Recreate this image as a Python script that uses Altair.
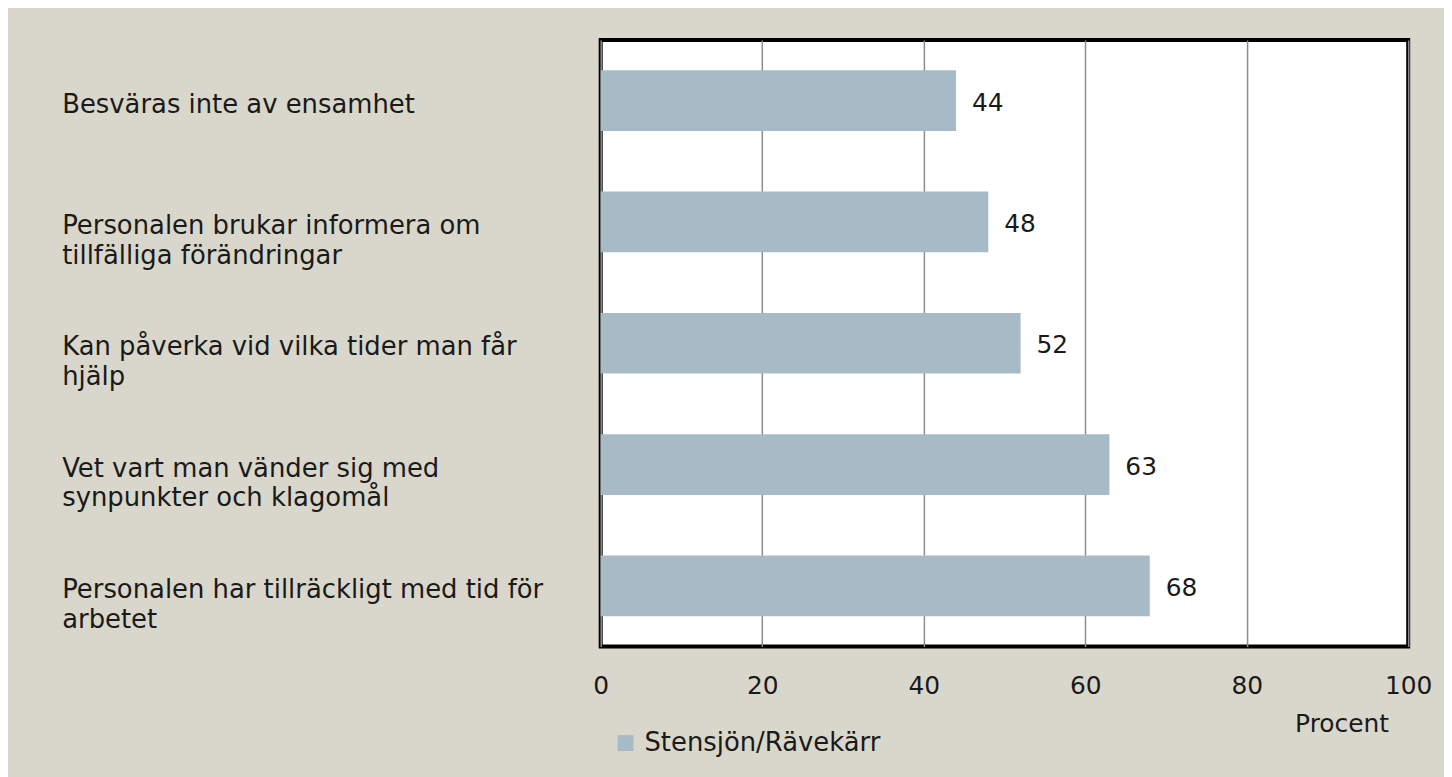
import altair as alt
import pandas as pd

categories = [
    "Besväras inte av ensamhet",
    "Personalen brukar informera om\ntillfälliga förändringar",
    "Kan påverka vid vilka tider man får\nhjälp",
    "Vet vart man vänder sig med\nsynpunkter och klagomål",
    "Personalen har tillräckligt med tid för\narbetet",
]
values = [44, 48, 52, 63, 68]
series = "Stensjön/Rävekärr"
x_ticks = [0, 20, 40, 60, 80, 100]

df = pd.DataFrame({"kategori": categories, "procent": values, "serie": [series] * len(values)})

FONT = "DejaVu Sans"
BAR = "#a7bbc6"

y_enc = alt.Y(
    "kategori:N",
    sort=categories,
    scale=alt.Scale(paddingInner=0.5, paddingOuter=0.25),
    axis=alt.Axis(
        title=None,
        ticks=False,
        domain=False,
        grid=False,
        labelAlign="left",
        labelBaseline="top",
        labelPadding=542,
        labelOffset=-9,
        labelFont=FONT,
        labelFontSize=26,
        labelLineHeight=30,
        labelColor="#1a1a1a",
        labelLimit=600,
        labelExpr="split(datum.label, '\\n')",
    ),
)

x_enc = alt.X(
    "procent:Q",
    scale=alt.Scale(domain=[0, 100], nice=False),
    axis=alt.Axis(
        values=x_ticks,
        title="Procent",
        titleX=745,
        titleY=77,
        titleAlign="center",
        titleBaseline="middle",
        titleFont=FONT,
        titleFontSize=25,
        titleFontWeight="normal",
        titleColor="#1a1a1a",
        ticks=False,
        tickSize=0,
        domain=False,
        grid=True,
        gridColor="#8c8c8c",
        gridWidth=1.5,
        labelPadding=39,
        labelBaseline="middle",
        labelFont=FONT,
        labelFontSize=25,
        labelColor="#1a1a1a",
        labelFlush=False,
    ),
)

bars = alt.Chart(df).mark_bar(color=BAR).encode(
    x=x_enc,
    y=y_enc,
    color=alt.Color(
        "serie:N",
        scale=alt.Scale(range=[BAR]),
        legend=alt.Legend(
            title=None,
            orient="none",
            legendX=12,
            legendY=694,
            symbolType="square",
            symbolSize=256,
            symbolStrokeWidth=0,
            symbolOpacity=1,
            labelFont=FONT,
            labelFontSize=26,
            labelColor="#1a1a1a",
            labelOffset=6,
            padding=0,
            labelLimit=400,
        ),
    ),
)

text = alt.Chart(df).mark_text(
    align="left", baseline="middle", dx=16, dy=2, font=FONT, fontSize=25, color="#1a1a1a"
).encode(
    x=alt.X("procent:Q"),
    y=alt.Y("kategori:N", sort=categories),
    text=alt.Text("procent:Q"),
)

chart = (
    alt.layer(bars, text)
    .properties(
        width=812,
        height=610,
        background="#d9d7cb",
        padding={"left": 596, "top": 30, "right": 36, "bottom": 129},
        autosize=alt.AutoSizeParams(type="none"),
    )
    .configure_view(fill="white", stroke="black", strokeWidth=4)
)

chart.save("out.html", embed_options={"renderer": "svg", "actions": False})
